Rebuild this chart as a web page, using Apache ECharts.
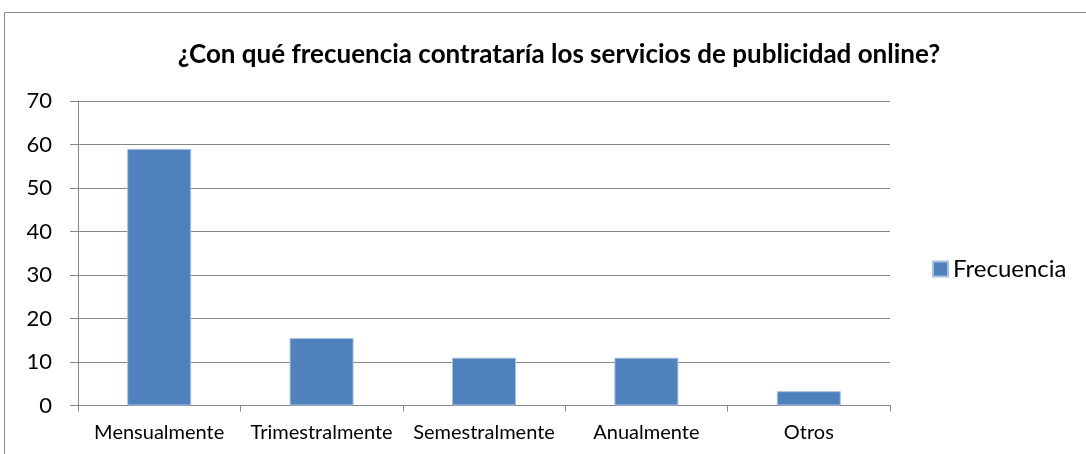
<!DOCTYPE html>
<html><head><meta charset="utf-8">
<script src="https://cdn.jsdelivr.net/npm/echarts@6/dist/echarts.min.js"></script>
<style>html,body{margin:0;padding:0;background:#fff}#c{width:1086px;height:454px}</style>
</head><body><div id="c"></div>
<script>
const categories = ['Mensualmente', 'Trimestralmente', 'Semestralmente', 'Anualmente', 'Otros'];
const frecuencia = [59, 15.5, 11, 11, 3.3];
const yTicks = [0, 10, 20, 30, 40, 50, 60, 70];
const seriesName = 'Frecuencia';
const titleText = '¿Con qué frecuencia contrataría los servicios de publicidad online?';

const chart = echarts.init(document.getElementById('c'));
const font = 'Lato, "Open Sans", sans-serif';
chart.setOption({
  animation: false,
  graphic: [{
    type: 'rect', shape: {x: 4.5, y: 12.5, width: 1100, height: 500},
    style: {fill: 'none', stroke: '#868686', lineWidth: 1}, silent: true
  }],
  title: {
    text: titleText, left: 554, top: 37, textAlign: 'center',
    textStyle: {fontFamily: font, fontWeight: 'bold', fontSize: 26, color: '#000'}
  },
  legend: {
    data: [seriesName], left: 927, top: 252, itemWidth: 15, itemHeight: 15, itemGap: 8,
    textStyle: {fontFamily: font, fontSize: 24, color: '#000'},
    icon: 'rect'
  },
  grid: {left: 78, right: 196, top: 101, bottom: 48.5, containLabel: false},
  xAxis: {
    type: 'category', data: categories,
    axisLine: {lineStyle: {color: '#868686', width: 1}},
    axisTick: {show: true, length: 6, lineStyle: {color: '#868686'}},
    axisLabel: {fontFamily: font, fontSize: 20, color: '#000', margin: 17, interval: 0}
  },
  yAxis: {
    type: 'value', min: yTicks[0], max: yTicks[yTicks.length - 1], interval: 10,
    axisLine: {show: true, lineStyle: {color: '#868686'}},
    axisTick: {show: true, length: 8, lineStyle: {color: '#868686'}},
    splitLine: {lineStyle: {color: '#868686', width: 1}},
    axisLabel: {fontFamily: font, fontSize: 22, color: '#000', margin: 26}
  },
  series: [{
    name: seriesName, type: 'bar', data: frecuencia, barWidth: 64,
    itemStyle: {color: '#4F81BD', borderColor: '#A9C1E0', borderWidth: 1}
  }]
});
</script></body></html>
